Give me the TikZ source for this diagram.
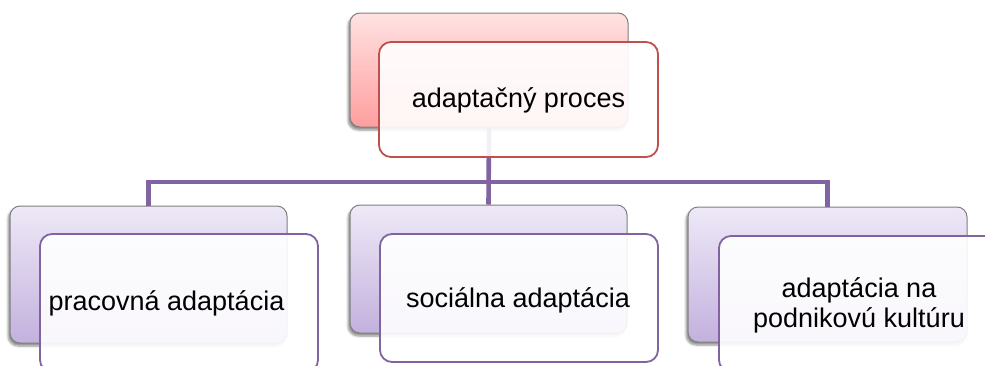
\documentclass[tikz,border=0pt]{standalone}
\usepackage{fontspec}
\setmainfont{Liberation Sans}
\usetikzlibrary{shadows.blur}
\definecolor{accentred}{HTML}{C0504D}
\definecolor{accentpurple}{HTML}{8064A2}
\definecolor{pinktop}{HTML}{FFE2E2}
\definecolor{pinkbottom}{HTML}{FF9E9E}
\definecolor{lilactop}{HTML}{EEE9F7}
\definecolor{lilacbottom}{HTML}{C3B1DE}
\definecolor{rimgray}{HTML}{7F7F7F}
\begin{document}
\begin{tikzpicture}[x=1pt,y=-1pt,
  backbox/.style={rectangle, rounded corners=10pt, inner sep=0pt, draw=rimgray, line width=1pt,
    blur shadow={shadow xshift=-2pt, shadow yshift=-3pt, shadow blur steps=6, shadow opacity=45}},
  rootback/.style={backbox, top color=pinktop, bottom color=pinkbottom},
  childback/.style={backbox, top color=lilactop, bottom color=lilacbottom},
  frontbox/.style={rectangle, rounded corners=12pt, inner sep=0pt, fill=white, fill opacity=0.9, line width=1.8pt},
  rootfront/.style={frontbox, draw=accentred},
  childfront/.style={frontbox, draw=accentpurple},
  label/.style={anchor=base, inner sep=0pt, align=center, font=\fontsize{27pt}{30pt}\selectfont, text=black},
  conn/.style={draw=accentpurple, line width=4.6pt}
]
\clip (0,0) rectangle (985,365);

% back cards
\node[rootback, minimum width=278pt, minimum height=114pt] (rootb) at (489,70) {};
\node[childback, minimum width=277pt, minimum height=137pt] (leftb) at (148.5,274.5) {};
\node[childback, minimum width=277pt, minimum height=128pt] (midb) at (488.5,269) {};
\node[childback, minimum width=279pt, minimum height=135pt] (rightb) at (827.5,274.5) {};

% tree connectors
\coordinate (hub) at (488,182);
\draw[conn] (rootb.south) -- (midb.north);
\draw[conn] (leftb.north) |- (hub) -| (rightb.north);

% front cards
\node[rootfront, minimum width=279pt, minimum height=115pt] (rootf) at (518.5,99.5) {};
\node[childfront, minimum width=278pt, minimum height=138pt] (leftf) at (179,303) {};
\node[childfront, minimum width=278pt, minimum height=128pt] (midf) at (519,298) {};
\node[childfront, minimum width=279pt, minimum height=136pt] (rightf) at (858.5,304) {};

% labels (base anchor sits on the last line)
\node[label] (roottext) at (518.5,107) {adaptačný proces};
\node[label] (lefttext) at (166.5,310) {pracovná adaptácia};
\node[label] (midtext) at (518,307) {sociálna adaptácia};
\node[label] (righttext) at (859,327) {adaptácia na\\podnikovú kultúru};
\end{tikzpicture}
\end{document}
